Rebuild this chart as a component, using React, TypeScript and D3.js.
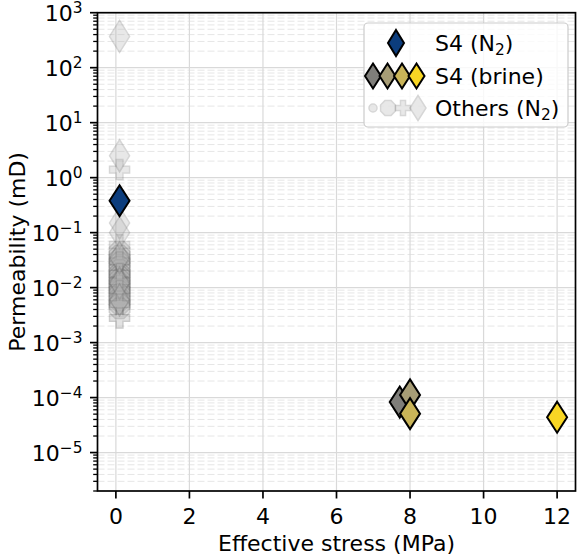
import React from "react";
import * as d3 from "d3";

const W = 582;
const H = 559;

// ---- data ----
const xTicks = [0, 2, 4, 6, 8, 10, 12];
const yTickExps = [-5, -4, -3, -2, -1, 0, 1, 2, 3];

const s4N2 = [{ x: 0.1, y: 0.38 }];
const s4BrineStress = [7.72, 8.0, 8.0, 12.0];
const s4BrinePerm = [8.3e-5, 1.12e-4, 5.1e-5, 4.4e-5];
const s4BrineColors = ["#7f7e7a", "#a79d76", "#c9b458", "#f8d624"];

const othersDiamond = [
  [0.1, 370], [0.1, 2.5], [0.1, 0.15], [0.1, 0.1], [0.1, 0.035], [0.1, 0.012], [0.1, 0.006],
];
const othersPlus = [
  [0.1, 1.4], [0.1, 0.06], [0.1, 0.03], [0.1, 0.018], [0.1, 0.013], [0.1, 0.009], [0.1, 0.005], [0.1, 0.0028],
];
const othersOctagon = [
  [0.1, 0.045], [0.1, 0.038], [0.1, 0.033], [0.1, 0.028], [0.1, 0.024], [0.1, 0.021], [0.1, 0.018],
  [0.1, 0.016], [0.1, 0.014], [0.1, 0.012], [0.1, 0.011], [0.1, 0.0095], [0.1, 0.0085], [0.1, 0.0075],
  [0.1, 0.0065], [0.1, 0.0058], [0.1, 0.005], [0.1, 0.0042],
];
const othersCircle = [
  [0.1, 0.028], [0.1, 0.016], [0.1, 0.011], [0.1, 0.0075], [0.1, 0.0055],
];

// ---- layout ----
const L = 97.5, R = 575.5, T = 12.7, B = 491;
const FONT = "DejaVu Sans, sans-serif";
const FS = 22;

const x = d3.scaleLinear().domain([-0.5, 12.5]).range([L, R]);
const y = d3.scaleLog().domain([2e-6, 1e3]).range([B, T]);

function diamond(w: number, h: number) {
  return `M0,${-h / 2}L${w / 2},0L0,${h / 2}L${-w / 2},0Z`;
}
function octagon(r: number) {
  const pts = d3.range(8).map((k) => {
    const a = (Math.PI / 8) + (k * Math.PI) / 4;
    return [r * Math.cos(a), r * Math.sin(a)];
  });
  return "M" + pts.map((p) => p.join(",")).join("L") + "Z";
}
function plus(s: number) {
  const a = s / 2, b = s / 6;
  return `M${-b},${-a}L${b},${-a}L${b},${-b}L${a},${-b}L${a},${b}L${b},${b}L${b},${a}L${-b},${a}L${-b},${b}L${-a},${b}L${-a},${-b}L${-b},${-b}Z`;
}

const OTH_FILL = "#b0b0b0";
const OTH_STROKE = "#707070";
const OTH_OP = 0.36;

export default function App() {
  const minorY: number[] = [];
  for (let e = -6; e < 3; e++) {
    for (let m = 2; m <= 9; m++) {
      const v = m * Math.pow(10, e);
      if (v >= 2e-6 && v <= 1e3) minorY.push(v);
    }
  }
  const othersAll: { path: string; x: number; y: number }[] = [];
  othersCircle.forEach((d) => othersAll.push({ path: "circle", x: d[0], y: d[1] }));
  othersOctagon.forEach((d) => othersAll.push({ path: octagon(11), x: d[0], y: d[1] }));
  othersPlus.forEach((d) => othersAll.push({ path: plus(20), x: d[0], y: d[1] }));
  othersDiamond.forEach((d) => othersAll.push({ path: diamond(20, 32), x: d[0], y: d[1] }));

  return (
    <svg width={W} height={H} style={{ position: "absolute", left: 0, top: 0, background: "#fff" }} fontFamily={FONT}>
      <defs>
        <clipPath id="plotclip">
          <rect x={L} y={T} width={R - L} height={B - T} />
        </clipPath>
      </defs>
      {/* grid */}
      <g clipPath="url(#plotclip)">
        {minorY.map((v, i) => (
          <line key={"mg" + i} x1={L} x2={R} y1={y(v)} y2={y(v)} stroke="#e6e6e6" strokeWidth={1} strokeDasharray="7,3" />
        ))}
        {yTickExps.map((e) => (
          <line key={"yg" + e} x1={L} x2={R} y1={y(Math.pow(10, e))} y2={y(Math.pow(10, e))} stroke="#d9d9d9" strokeWidth={1.2} />
        ))}
        {xTicks.map((t) => (
          <line key={"xg" + t} x1={x(t)} x2={x(t)} y1={T} y2={B} stroke="#d9d9d9" strokeWidth={1.2} />
        ))}
      </g>
      {/* others */}
      <g clipPath="url(#plotclip)">
        {othersAll.map((d, i) =>
          d.path === "circle" ? (
            <circle key={"o" + i} cx={x(d.x)} cy={y(d.y)} r={5} fill={OTH_FILL} stroke={OTH_STROKE} strokeWidth={1.5} opacity={OTH_OP} />
          ) : (
            <path key={"o" + i} d={d.path} transform={`translate(${x(d.x)},${y(d.y)})`} fill={OTH_FILL} stroke={OTH_STROKE} strokeWidth={1.5} opacity={d.y > 0.05 ? 0.28 : OTH_OP} />
          )
        )}
        {/* S4 N2 */}
        {s4N2.map((d, i) => (
          <path key={"b" + i} d={diamond(20, 31)} transform={`translate(${x(d.x)},${y(d.y)})`} fill="#0c3d7d" stroke="#000" strokeWidth={2} />
        ))}
        {/* S4 brine */}
        {s4BrineStress.map((s, i) => (
          <path key={"br" + i} d={diamond(20, 31)} transform={`translate(${x(s)},${y(s4BrinePerm[i])})`} fill={s4BrineColors[i]} stroke="#000" strokeWidth={2} />
        ))}
      </g>
      {/* frame */}
      <rect x={L} y={T} width={R - L} height={B - T} fill="none" stroke="#000" strokeWidth={1.7} />
      {/* x axis ticks */}
      {xTicks.map((t) => (
        <g key={"xt" + t}>
          <line x1={x(t)} x2={x(t)} y1={B} y2={B + 7.5} stroke="#000" strokeWidth={1.7} />
          <text x={x(t)} y={B + 33} fontSize={FS} textAnchor="middle" fill="#000">{t}</text>
        </g>
      ))}
      {/* y axis ticks */}
      {minorY.map((v, i) => (
        <line key={"ymt" + i} x1={L - 4.3} x2={L} y1={y(v)} y2={y(v)} stroke="#000" strokeWidth={1.3} />
      ))}
      {yTickExps.map((e) => {
        const yy = y(Math.pow(10, e));
        return (
          <g key={"yt" + e}>
            <line x1={L - 7.5} x2={L} y1={yy} y2={yy} stroke="#000" strokeWidth={1.7} />
            <text x={L - 15} y={yy + 8} fontSize={FS} textAnchor="end" fill="#000">
              10
              <tspan fontSize={FS * 0.7} dy={-8}>{e < 0 ? "\u2212" + Math.abs(e) : String(e)}</tspan>
            </text>
          </g>
        );
      })}
      {/* axis labels */}
      <text x={(L + R) / 2} y={551} fontSize={FS} textAnchor="middle" fill="#000">Effective stress (MPa)</text>
      <text transform={`translate(25,${(T + B) / 2}) rotate(-90)`} fontSize={FS} textAnchor="middle" fill="#000">Permeability (mD)</text>
      {/* legend */}
      <g>
        <rect x={364} y={23} width={204} height={104} rx={4} fill="#fff" fillOpacity={0.8} stroke="#cccccc" strokeWidth={1.2} />
        <path d={diamond(16, 26)} transform="translate(396,43)" fill="#0c3d7d" stroke="#000" strokeWidth={2} />
        <text x={435} y={51} fontSize={FS} fill="#000">
          S4 (N<tspan fontSize={FS * 0.7} dy={4}>2</tspan><tspan dy={-4}>)</tspan>
        </text>
        {s4BrineColors.map((c, i) => (
          <path key={"lb" + i} d={diamond(16, 25)} transform={`translate(${373 + i * 14.5},76)`} fill={c} stroke="#000" strokeWidth={2} />
        ))}
        <text x={435} y={84} fontSize={FS} fill="#000">S4 (brine)</text>
        <circle cx={373} cy={108} r={4} fill={OTH_FILL} stroke={OTH_STROKE} strokeWidth={1.5} opacity={0.28} />
        <path d={octagon(8)} transform="translate(388,108)" fill={OTH_FILL} stroke={OTH_STROKE} strokeWidth={1.5} opacity={0.28} />
        <path d={plus(15)} transform="translate(403,108)" fill={OTH_FILL} stroke={OTH_STROKE} strokeWidth={1.5} opacity={0.28} />
        <path d={diamond(16, 25)} transform="translate(418,108)" fill={OTH_FILL} stroke={OTH_STROKE} strokeWidth={1.5} opacity={0.28} />
        <text x={435} y={116} fontSize={FS} fill="#000">
          Others (N<tspan fontSize={FS * 0.7} dy={4}>2</tspan><tspan dy={-4}>)</tspan>
        </text>
      </g>
    </svg>
  );
}
